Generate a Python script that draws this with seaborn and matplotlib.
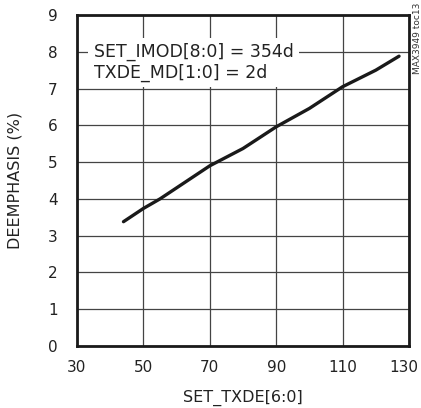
import matplotlib
matplotlib.use("Agg")
import matplotlib.pyplot as plt
import matplotlib.transforms as mtransforms
import seaborn as sns
import pandas as pd

set_txde = [44, 50, 55, 60, 70, 80, 90, 100, 110, 120, 127]
deemphasis = [3.38, 3.74, 4.0, 4.3, 4.9, 5.37, 5.96, 6.46, 7.05, 7.5, 7.88]
x_ticks = [30, 50, 70, 90, 110, 130]
y_ticks = [0, 1, 2, 3, 4, 5, 6, 7, 8, 9]

sns.set_theme(style="white")
plt.rcParams['font.family'] = ['Liberation Sans Narrow', 'DejaVu Sans Condensed', 'DejaVu Sans']

df = pd.DataFrame({"x": set_txde, "y": deemphasis})

fig = plt.figure(figsize=(4.21, 4.08), dpi=100)
ax = fig.add_axes([77/421, 62/408, 332/421, 331/408])
sns.lineplot(data=df, x="x", y="y", ax=ax, color="#1a1a1a", linewidth=2.4)

ax.set_xlim(30, 130)
ax.set_ylim(0, 9)
ax.set_xticks(x_ticks)
ax.set_yticks(y_ticks)
ax.grid(True, color="#444444", linewidth=0.9)
ax.set_axisbelow(True)
for s in ax.spines.values():
    s.set_visible(True)
    s.set_color("#1a1a1a")
    s.set_linewidth(2.0)
ax.tick_params(axis='both', length=0, labelsize=11, colors="#222222")
ax.tick_params(axis='y', pad=14)
ax.tick_params(axis='x', pad=10)
ax.set_xlabel("SET_TXDE[6:0]", fontsize=11.5, color="#222222", labelpad=11)
ax.set_ylabel("DEEMPHASIS (%)", fontsize=11.5, color="#222222", labelpad=18)

last = ax.get_xticklabels()[-1]
last.set_transform(last.get_transform() + mtransforms.ScaledTranslation(-4/72, 0, fig.dpi_scale_trans))

ax.text(0.05, 0.915, "SET_IMOD[8:0] = 354d\nTXDE_MD[1:0] = 2d", transform=ax.transAxes,
        fontsize=12.5, va="top", ha="left", color="#222222", linespacing=1.15,
        bbox=dict(facecolor="white", edgecolor="none", pad=4))

fig.text(417/421, 405/408, "MAX3949 toc13", rotation=90, ha="center", va="top",
         fontsize=6.5, color="#333333")

fig.savefig("out.png", dpi=100)
